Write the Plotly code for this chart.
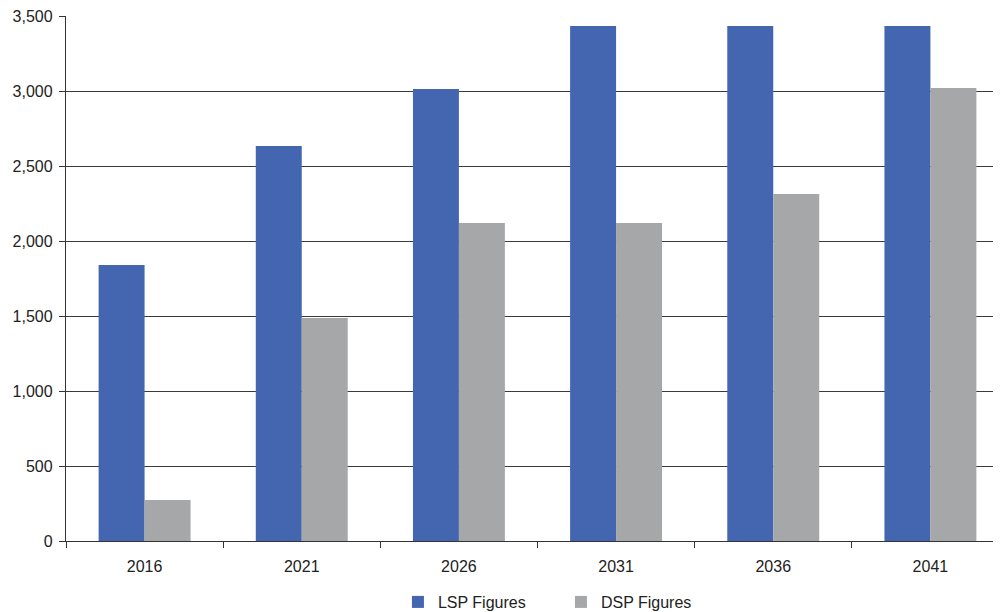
import plotly.graph_objects as go

years = ["2016", "2021", "2026", "2031", "2036", "2041"]
lsp = [1840, 2633, 3013, 3433, 3433, 3433]
dsp = [273, 1487, 2120, 2120, 2313, 3020]
y_ticks = [0, 500, 1000, 1500, 2000, 2500, 3000, 3500]

fig = go.Figure()
fig.add_trace(go.Bar(name="LSP Figures", x=years, y=lsp, marker_color="#4465AF", marker_line_width=0))
fig.add_trace(go.Bar(name="DSP Figures", x=years, y=dsp, marker_color="#A6A7A9", marker_line_width=0))

fig.update_layout(
    width=1001, height=612,
    margin=dict(l=58, r=0, t=8, b=79),
    plot_bgcolor="white", paper_bgcolor="white",
    barmode="group", bargap=0.415, bargroupgap=0,
    font=dict(family="Liberation Sans, Arial, sans-serif", size=16, color="#222"),
    legend=dict(orientation="h", x=0.352, xanchor="left", xref="paper",
                y=0.0294, yanchor="middle", yref="container",
                font=dict(size=16), itemwidth=30, entrywidth=118, tracegroupgap=0),
    showlegend=True,
)
fig.update_xaxes(
    type="category", tickson="boundaries", ticks="outside", ticklen=6,
    tickcolor="#333", showline=True, linecolor="#333", linewidth=1.3,
    showgrid=False, automargin=False, ticklabelstandoff=11,
    tickfont=dict(size=16),
)
fig.update_yaxes(
    range=[0, 3500], tickvals=y_ticks, tickformat=",", ticks="outside", ticklen=6,
    tickcolor="#333", showline=True, linecolor="#333", linewidth=1.3,
    showgrid=True, gridcolor="#3a3a3a", gridwidth=1.3, zeroline=False,
    automargin=False, ticklabelstandoff=3, tickfont=dict(size=16),
    ticklabeloverflow="allow",
)

fig.write_html("out.html")
